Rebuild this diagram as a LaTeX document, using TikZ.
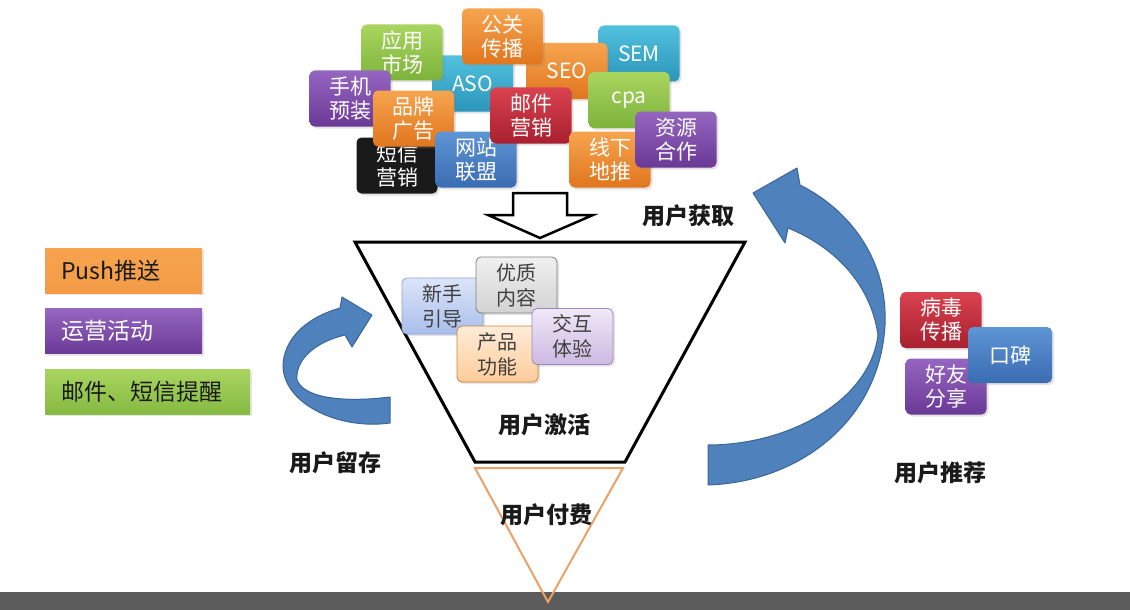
\documentclass[tikz,border=0pt]{standalone}
\usepackage{fontspec}
\setmainfont{Noto Sans CJK SC}
\usepackage{xcolor}
\definecolor{OrangeTop}{HTML}{F7A44F}
\definecolor{OrangeBot}{HTML}{E0761E}
\definecolor{GreenTop}{HTML}{A9D55F}
\definecolor{GreenBot}{HTML}{7DB33B}
\definecolor{TealTop}{HTML}{52C1DE}
\definecolor{TealBot}{HTML}{2B95BA}
\definecolor{PurpleTop}{HTML}{9566C0}
\definecolor{PurpleBot}{HTML}{6A3996}
\definecolor{RedTop}{HTML}{D9424F}
\definecolor{RedBot}{HTML}{A8202F}
\definecolor{BlueTop}{HTML}{5E95D5}
\definecolor{BlueBot}{HTML}{3A6CB2}
\definecolor{Ink}{HTML}{1A1A1A}
\definecolor{Soft}{HTML}{404040}
\definecolor{PaleBlueTop}{HTML}{DCE5F8}
\definecolor{PaleBlueBot}{HTML}{A9BEEC}
\definecolor{PaleBlueEdge}{HTML}{8EA3D6}
\definecolor{PaleLilacTop}{HTML}{F0E8F7}
\definecolor{PaleLilacBot}{HTML}{CDB9E2}
\definecolor{PaleLilacEdge}{HTML}{9C88BC}
\definecolor{ArrowBlue}{HTML}{4F81BD}
\definecolor{ArrowEdge}{HTML}{3A6698}
\definecolor{PayLine}{HTML}{EBA266}
\definecolor{BarGray}{HTML}{5C5C5C}
\usepackage{tikz}
\usetikzlibrary{positioning,shadows}
\tikzset{
  tile/.style={rounded corners=5pt,minimum width=81pt,minimum height=56pt,inner sep=0pt,
    align=center,text=white,font=\fontsize{21}{24}\selectfont,
    drop shadow={opacity=.22,shadow xshift=2pt,shadow yshift=-2pt}},
  orange/.style={tile,top color=OrangeTop,bottom color=OrangeBot},
  green/.style={tile,top color=GreenTop,bottom color=GreenBot},
  teal/.style={tile,top color=TealTop,bottom color=TealBot},
  purple/.style={tile,top color=PurpleTop,bottom color=PurpleBot},
  red/.style={tile,top color=RedTop,bottom color=RedBot},
  blue/.style={tile,top color=BlueTop,bottom color=BlueBot},
  black/.style={tile,fill=Ink},
  soft/.style={tile,text=Soft,font=\fontsize{20}{25}\selectfont,line width=.8pt},
  listbox/.style={minimum height=45pt,inner xsep=16pt,inner ysep=0pt,
    align=left,font=\fontsize{23}{26}\selectfont,
    drop shadow={opacity=.2,shadow xshift=2pt,shadow yshift=-2pt}},
  stagelabel/.style={font=\fontsize{23}{26}\selectfont\bfseries,text=Ink},
  bigarrow/.style={fill=ArrowBlue,draw=ArrowEdge,line width=1pt,line join=round},
  hollow/.style={draw=black,fill=white,line width=2.5pt,line join=miter},
  funnel/.style={draw=black,line width=3pt,line join=miter},
  payline/.style={draw=PayLine,line width=2pt,line join=miter}
}
\begin{document}
\begin{tikzpicture}[x=1pt,y=-1pt]
  \useasboundingbox (0,0) rectangle (1130,610);
  \fill[white] (0,0) rectangle (1130,610);
  \fill[BarGray] (0,592) rectangle (1130,610);

  \node[teal] (aso) at (472.5,83.5) {ASO};
  \node[teal] (sem) at (639,53.5) {SEM};
  \node[orange] (seo) at (567,71) {SEO};
  \node[orange] (pr) at (502.5,36.5) {公关\\传播};
  \node[green] (store) at (402,52.5) {应用\\市场};
  \node[purple] (preload) at (350,98.5) {手机\\预装};
  \node[black] (sms) at (397,165.5) {短信\\营销};
  \node[orange] (brand) at (413.5,118.5) {品牌\\广告};
  \node[blue] (union) at (476,159.5) {网站\\联盟};
  \node[red] (mail) at (531,115.5) {邮件\\营销};
  \node[green] (cpa) at (629,100) {cpa};
  \node[orange] (offline) at (610,159.5) {线下\\地推};
  \node[purple] (partner) at (676,139.5) {资源\\合作};

  \draw[hollow] (513,193) -- (567,193) -- (567,215) -- (593,215) -- (540,238)
    -- (488,215) -- (513,215) -- cycle;

  \draw[funnel] (355,242) -- (745,242) -- (625,462) -- (475,462) -- cycle;
  \draw[payline] (475,468) -- (623,468) -- (548,602) -- cycle;

  \node[soft,top color=PaleBlueTop,bottom color=PaleBlueBot,draw=PaleBlueEdge] (guide) at (442.5,306) {新手\\引导};
  \node[soft,top color=gray!12,bottom color=gray!35,draw=gray] (content) at (516.5,285) {优质\\内容};
  \node[soft,top color=orange!15,bottom color=orange!40,draw=orange!60!gray] (feature) at (497.5,354) {产品\\功能};
  \node[soft,top color=PaleLilacTop,bottom color=PaleLilacBot,draw=PaleLilacEdge] (ux) at (572.5,336.5) {交互\\体验};

  \node[listbox,top color=OrangeTop,bottom color=OrangeTop!80!OrangeBot,text=Ink,text width=125pt,anchor=north west] (push) at (45,248) {Push推送};
  \node[listbox,top color=PurpleTop,bottom color=PurpleBot,text=white,text width=125pt,below=15pt of push.south west,anchor=north west] (event) {运营活动};
  \node[listbox,top color=GreenTop,bottom color=GreenBot!80!GreenTop,text=Ink,text width=173pt,below=15pt of event.south west,anchor=north west] (remind) {邮件、短信提醒};

  \node[red] (viral) at (941,320) {病毒\\传播};
  \node[purple] (share) at (946,386.5) {好友\\分享};
  \node[blue,minimum width=84pt] (word) at (1010,355) {口碑};

  \draw[bigarrow] (390,397) .. controls (350,402) and (305,400) .. (297,380)
    .. controls (295,360) and (315,342) .. (345,335) -- (352,347) -- (372,315)
    -- (342,297) -- (340,308) .. controls (305,318) and (283,340) .. (283,367)
    .. controls (285,405) and (340,430) .. (390,423) -- cycle;
  \draw[bigarrow] (708,445) .. controls (790,445) and (870,400) .. (878,335)
    .. controls (870,280) and (830,245) .. (788,228) -- (785,243) -- (753,193)
    -- (797,168) -- (800,185) .. controls (850,210) and (888,260) .. (885,325)
    .. controls (880,420) and (800,482) .. (708,485) -- cycle;

  \node[stagelabel] (acquire) at (688,216) {用户获取};
  \node[stagelabel] (activate) at (544,425) {用户激活};
  \node[stagelabel] (pay) at (546,515) {用户付费};
  \node[stagelabel] (retain) at (335,463) {用户留存};
  \node[stagelabel] (refer) at (940,473) {用户推荐};
\end{tikzpicture}
\end{document}
